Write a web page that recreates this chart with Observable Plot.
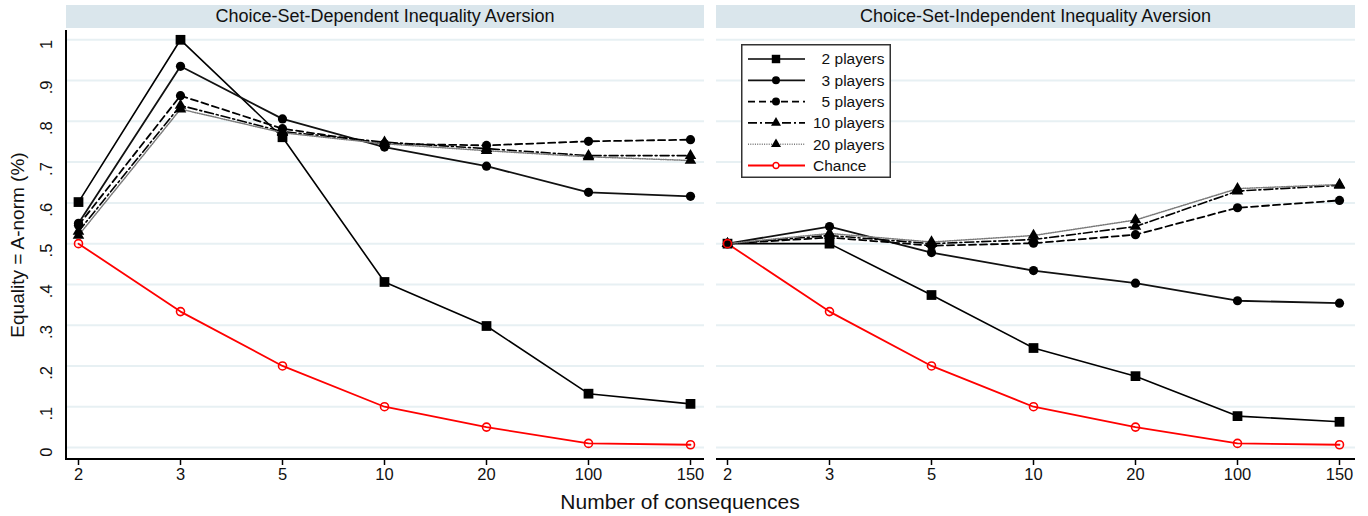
<!DOCTYPE html>
<html>
<head>
<meta charset="utf-8">
<script src="https://cdn.jsdelivr.net/npm/d3@7"></script>
<script src="https://cdn.jsdelivr.net/npm/@observablehq/plot@0.6"></script>
<style>
  html, body { margin: 0; padding: 0; background: #fff; }
  #wrap { position: relative; width: 1368px; height: 516px; font-family: "Liberation Sans", Arial, sans-serif; color: #111; overflow: hidden; }
  .panel { position: absolute; top: 0; }
  .strip { position: absolute; top: 5px; height: 23px; background: #dae6ec; font-size: 18px; line-height: 23px; text-align: center; }
  .ytitle { position: absolute; left: 18px; top: 245px; transform: translate(-50%, -50%) rotate(-90deg); font-size: 19px; white-space: nowrap; }
  .xtitle { position: absolute; left: 680px; top: 502px; transform: translate(-50%, -50%); font-size: 21px; white-space: nowrap; }
  .legend { position: absolute; }
</style>
</head>
<body>
<div id="wrap"></div>
<script>
// ---- data ----
const categories = ["2", "3", "5", "10", "20", "100", "150"];
const panelTitles = ["Choice-Set-Dependent Inequality Aversion", "Choice-Set-Independent Inequality Aversion"];
const seriesNames = ["2 players", "3 players", "5 players", "10 players", "20 players", "Chance"];
const yTicks = [0, 0.1, 0.2, 0.3, 0.4, 0.5, 0.6, 0.7, 0.8, 0.9, 1];
const yTickLabels = ["0", ".1", ".2", ".3", ".4", ".5", ".6", ".7", ".8", ".9", "1"];

// Choice-set-dependent panel
const dep2 = [0.602, 1.0, 0.761, 0.406, 0.298, 0.132, 0.107];
const dep3 = [0.55, 0.935, 0.806, 0.737, 0.69, 0.626, 0.616];
const dep5 = [0.545, 0.863, 0.782, 0.745, 0.741, 0.751, 0.755];
const dep10 = [0.53, 0.839, 0.775, 0.749, 0.733, 0.716, 0.716];
const dep20 = [0.52, 0.83, 0.772, 0.745, 0.728, 0.713, 0.704];
const depChance = [0.5, 0.3333, 0.2, 0.1, 0.05, 0.01, 0.0067];

// Choice-set-independent panel
const ind2 = [0.5, 0.5, 0.374, 0.244, 0.175, 0.077, 0.063];
const ind3 = [0.5, 0.542, 0.478, 0.434, 0.403, 0.36, 0.354];
const ind5 = [0.5, 0.515, 0.495, 0.501, 0.522, 0.588, 0.606];
const ind10 = [0.5, 0.52, 0.5, 0.51, 0.542, 0.629, 0.643];
const ind20 = [0.5, 0.525, 0.504, 0.52, 0.558, 0.635, 0.645];
const indChance = [0.5, 0.3333, 0.2, 0.1, 0.05, 0.01, 0.0067];

// ---- styles ----
const styles = {
  "2 players":  {stroke: "#000", width: 1.6, dash: null, symbol: "square", r: 5.5, fill: "#000"},
  "3 players":  {stroke: "#111", width: 1.8, dash: null, symbol: "circle", r: 4.6, fill: "#000"},
  "5 players":  {stroke: "#000", width: 1.8, dash: "7,4", symbol: "circle", r: 4.6, fill: "#000"},
  "10 players": {stroke: "#000", width: 1.6, dash: "9,3,2,3", symbol: "triangle", r: 4.3, fill: "#000"},
  "20 players": {stroke: "#7a7a7a", width: 1.5, dash: "1,1.3", symbol: "triangle", r: 4.3, fill: "#000"},
  "Chance":     {stroke: "#ff0000", width: 1.8, dash: null, symbol: "circle", r: 4, fill: "none"}
};

function table(arrs) {
  return seriesNames.map((s, i) => ({name: s, pts: categories.map((c, j) => ({k: c, v: arrs[i][j]}))}));
}
const panels = [
  table([dep2, dep3, dep5, dep10, dep20, depChance]),
  table([ind2, ind3, ind5, ind10, ind20, indChance])
];

const wrap = document.getElementById("wrap");
const FONT = "Liberation Sans, Arial, sans-serif";

const layout = [
  {left: 0, width: 704, marginLeft: 66, marginRight: 0, xr: [75, 692], yAxis: true, strip: [66, 704]},
  {left: 712, width: 656, marginLeft: 4, marginRight: 13, xr: [12, 629], yAxis: false, strip: [716, 1355]}
];

panels.forEach((series, pi) => {
  const L = layout[pi];
  const marks = [
    Plot.gridY(yTicks, {stroke: "#e7f0f3", strokeOpacity: 1, strokeWidth: 2})
  ];
  marks.push((index, scales, values, dim) => {
    const g = d3.create("svg:g");
    const bottom = dim.height - dim.marginBottom;
    g.append("line").attr("x1", dim.marginLeft - (L.yAxis ? 1 : 0)).attr("x2", dim.width - dim.marginRight)
      .attr("y1", bottom).attr("y2", bottom).attr("stroke", "#000").attr("stroke-width", 2);
    if (L.yAxis) {
      g.append("line").attr("x1", dim.marginLeft).attr("x2", dim.marginLeft)
        .attr("y1", dim.marginTop).attr("y2", bottom + 1).attr("stroke", "#000").attr("stroke-width", 2);
    }
    return g.node();
  });
  series.forEach(s => {
    const st = styles[s.name];
    marks.push(Plot.line(s.pts, {x: "k", y: "v", stroke: st.stroke, strokeWidth: st.width,
      strokeDasharray: st.dash || undefined, strokeLinejoin: "round"}));
  });
  series.forEach(s => {
    const st = styles[s.name];
    if (st.fill === "none") {
      marks.push(Plot.dot(s.pts, {x: "k", y: "v", r: st.r, symbol: st.symbol, fill: "none", stroke: st.stroke, strokeWidth: 1.6}));
    } else {
      marks.push(Plot.dot(s.pts, {x: "k", y: "v", r: st.r, symbol: st.symbol, fill: st.fill, stroke: "none"}));
    }
  });
  marks.push(Plot.axisX({tickSize: 6, tickPadding: 3, fontSize: 16.5, label: null, stroke: "#000", strokeWidth: 1.5}));
  if (L.yAxis) {
    marks.push(Plot.axisY(yTicks, {tickSize: 7, tickPadding: 13, rotate: -90, fontSize: 16.5, label: null,
      tickFormat: d => yTickLabels[yTicks.indexOf(d)], stroke: "#000", strokeWidth: 1.5}));
  }
  const plot = Plot.plot({
    width: L.width, height: 516,
    marginLeft: L.marginLeft, marginRight: L.marginRight, marginTop: 30, marginBottom: 57,
    style: {fontFamily: FONT, fontSize: "16px", color: "#111", background: "transparent", overflow: "visible"},
    x: {type: "point", domain: categories, range: L.xr, padding: 0, axis: null},
    y: {domain: [0, 1], range: [447, 39.3], axis: null},
    marks
  });
  const div = document.createElement("div");
  div.className = "panel";
  div.style.left = L.left + "px";
  div.appendChild(plot);
  wrap.appendChild(div);

  const strip = document.createElement("div");
  strip.className = "strip";
  strip.style.left = L.strip[0] + "px";
  strip.style.width = (L.strip[1] - L.strip[0]) + "px";
  strip.textContent = panelTitles[pi];
  wrap.appendChild(strip);
});

const yt = document.createElement("div");
yt.className = "ytitle"; yt.textContent = "Equality = A-norm (%)";
wrap.appendChild(yt);
const xt = document.createElement("div");
xt.className = "xtitle"; xt.textContent = "Number of consequences";
wrap.appendChild(xt);

// legend
const lgW = 150, lgH = 134;
const lg = d3.create("svg").attr("class", "legend").attr("width", lgW).attr("height", lgH)
  .style("left", "741px").style("top", "44px").style("position", "absolute");
lg.append("rect").attr("x", 0.75).attr("y", 0.75).attr("width", lgW - 1.5).attr("height", lgH - 1.5)
  .attr("fill", "#fff").attr("stroke", "#333").attr("stroke-width", 1.5);
const symMap = {square: d3.symbolSquare, circle: d3.symbolCircle, triangle: d3.symbolTriangle};
seriesNames.forEach((name, i) => {
  const st = styles[name];
  const y = 15 + i * 21.3;
  lg.append("line").attr("x1", 7).attr("x2", 64).attr("y1", y).attr("y2", y)
    .attr("stroke", st.stroke).attr("stroke-width", st.width).attr("stroke-dasharray", st.dash);
  const size = st.r * st.r * Math.PI * (st.fill === "none" ? 0.55 : 0.75);
  lg.append("path").attr("d", d3.symbol(symMap[st.symbol], size)()).attr("transform", `translate(35,${y})`)
    .attr("fill", st.fill === "none" ? "#fff" : st.fill).attr("stroke", st.fill === "none" ? st.stroke : "none").attr("stroke-width", 1.5);
  lg.append("text").attr("x", 72).attr("y", y).attr("dy", "0.35em").attr("font-size", 15.5)
    .attr("font-family", FONT).attr("fill", "#111").attr("xml:space", "preserve")
    .style("white-space", "pre").text(name.length < 10 && name !== "Chance" ? "  " + name : name);
});
wrap.appendChild(lg.node());
</script>
</body>
</html>
